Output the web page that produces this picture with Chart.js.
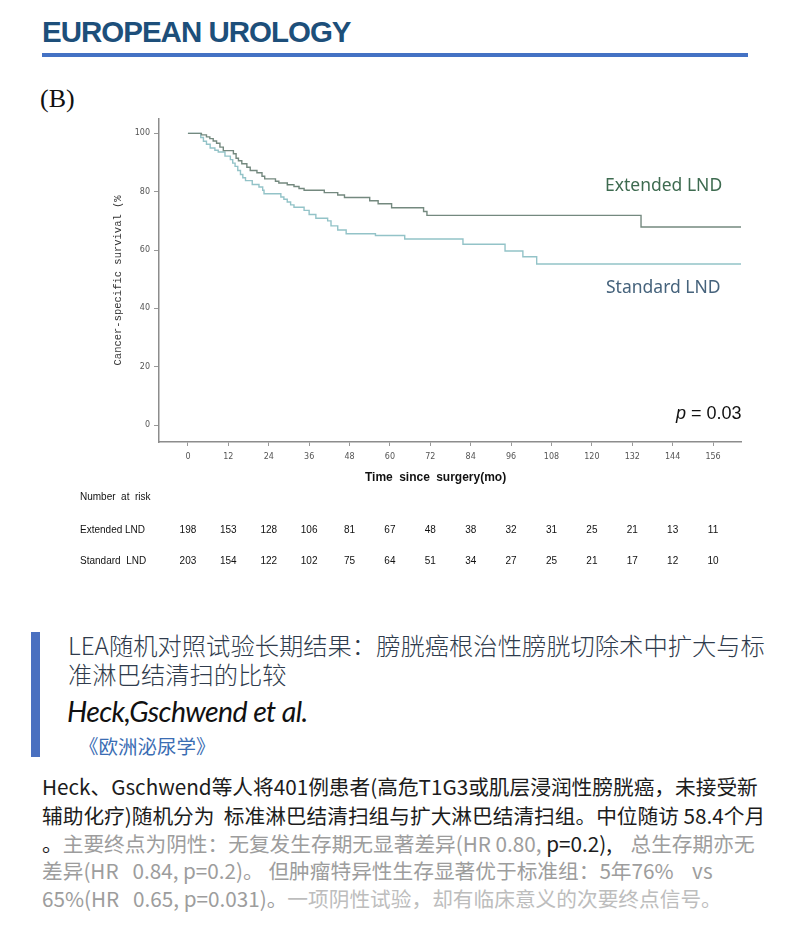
<!DOCTYPE html>
<html><head><meta charset="utf-8">
<script src="https://cdn.jsdelivr.net/npm/chart.js@4.4.0/dist/chart.umd.min.js"></script>
<style>
body{margin:0;background:#fff;width:790px;height:943px;position:relative;overflow:hidden;font-family:"Noto Sans CJK SC","Noto Sans",sans-serif;}
.abs{position:absolute;white-space:nowrap;}
.p{left:42px;font-size:20.7px;line-height:28px;color:#1c1c1c;}
.g{color:#9d9d9d}
.g2{color:#bdbdbd}
</style></head><body>
<div class="abs" style="left:42px;top:15px;font:bold 29.5px 'Liberation Sans',Arial;color:#1d4f7a;letter-spacing:-1px;">EUROPEAN UROLOGY</div>
<div class="abs" style="left:42px;top:53px;width:706px;height:4px;background:#4472c4"></div>
<div class="abs" style="left:40px;top:84px;font:26px 'Liberation Serif';color:#111">(B)</div>

<div style="position:absolute;left:60px;top:110px;width:700px;height:470px"><canvas id="c" width="700" height="470"></canvas></div>

<div class="abs" style="left:605px;top:172px;font:17.5px 'Noto Sans';color:#3e6b50">Extended LND</div>
<div class="abs" style="left:606px;top:274px;font:17.5px 'Noto Sans';color:#46637c">Standard LND</div>
<div class="abs" style="left:676px;top:403px;font:18px 'Liberation Sans';color:#111"><i>p</i> = 0.03</div>
<div class="abs" style="left:365px;top:470px;font:bold 12px 'Liberation Sans Narrow','Liberation Sans';color:#111;word-spacing:3px">Time since surgery(mo)</div>

<div class="abs" style="left:31px;top:632px;width:9px;height:125px;background:#4a70c0"></div>
<div class="abs" style="left:68px;top:630px;font-size:24.3px;font-weight:300;line-height:29px;color:#2f3b4c">LEA随机对照试验长期结果：膀胱癌根治性膀胱切除术中扩大与标</div>
<div class="abs" style="left:68px;top:659px;font-size:24.3px;font-weight:300;line-height:29px;color:#2f3b4c">准淋巴结清扫的比较</div>
<div class="abs" style="left:67px;top:694px;font:italic 28.5px Lato;color:#111;letter-spacing:-0.6px">Heck,Gschwend et al.</div>
<div class="abs" style="left:79px;top:733px;font-size:19.5px;line-height:25px;color:#3b6db3">《欧洲泌尿学》</div>

<div class="abs p" style="top:772px">Heck、Gschwend等人将401例患者(高危T1G3或肌层浸润性膀胱癌，未接受新</div>
<div class="abs p" style="top:801px">辅助化疗)随机分为&nbsp; 标准淋巴结清扫组与扩大淋巴结清扫组。中位随访 58.4个月</div>
<div class="abs p" style="top:829px">。<span class="g">主要终点为阴性：无复发生存期无显著差异(HR 0.80, </span>p=0.2),&nbsp;&nbsp;&nbsp; <span class="g">总生存期亦无</span></div>
<div class="abs p g" style="top:856px">差异(HR&nbsp;&nbsp; 0.84, p=0.2)。 但肿瘤特异性生存显著优于标准组：5年76%&nbsp;&nbsp;&nbsp; vs</div>
<div class="abs p g" style="top:884px">65%(HR&nbsp;&nbsp; 0.65, p=0.031)。<span class="g2">一项阴性试验，却有临床意义的次要终点信号。</span></div>

<script>
// Kaplan-Meier step events (months, survival %)
const extendedTimes = [0, 4, 5.5, 6.5, 7.5, 8.5, 9.5, 10.5, 13.5, 14.3, 15, 16, 17.5, 18.5, 20.5, 22, 22.8, 26, 27, 29.5, 31.5, 33, 34.5, 40.5, 44.5, 46.5, 54, 56.5, 60.5, 70, 71, 134.6, 164.3];
const extendedSurv  = [100, 99.5, 98.8, 98.2, 97.4, 96.6, 95.3, 94.1, 93.0, 91.5, 90.6, 89.6, 88.4, 87.3, 86.5, 85.3, 84.4, 83.6, 83.0, 82.4, 81.8, 81.1, 80.5, 79.7, 78.9, 78.0, 76.9, 75.9, 74.5, 73.2, 71.9, 67.9, 67.9];
const standardTimes = [0, 3.8, 4.6, 5.5, 6.6, 8.0, 9.0, 11.0, 12.6, 13.3, 14, 14.8, 15.6, 16.3, 17.1, 19.1, 21.1, 22.2, 22.6, 27.6, 28.5, 29.5, 30.5, 31.5, 34.5, 36, 38, 41.5, 42.5, 44.5, 47, 55.7, 64.4, 81.7, 94.2, 99.5, 103.6, 164.3];
const standardSurv  = [100, 98.6, 97.3, 96.3, 95.0, 94.2, 93.6, 92.2, 91.0, 89.8, 88.7, 87.3, 85.9, 84.8, 83.8, 82.5, 81.6, 80.5, 79.3, 78.2, 77.4, 76.5, 75.5, 74.7, 73.6, 72.2, 70.9, 70.0, 68.3, 66.9, 65.6, 65.0, 63.8, 62.0, 59.7, 57.7, 55.2, 55.2];
const xTicks = [0, 12, 24, 36, 48, 60, 72, 84, 96, 108, 120, 132, 144, 156];
const yTicks = [0, 20, 40, 60, 80, 100];
const riskExtended = [198, 153, 128, 106, 81, 67, 48, 38, 32, 31, 25, 21, 13, 11];
const riskStandard = [203, 154, 122, 102, 75, 64, 51, 34, 27, 25, 21, 17, 12, 10];
const riskLabels = ['Number  at  risk', 'Extended LND', 'Standard  LND'];

const toPts = (t, s) => t.map((v, i) => ({x: v, y: s[i]}));

const riskPlugin = {
  id: 'risk',
  afterDraw(chart) {
    const ctx = chart.ctx, xs = chart.scales.x;
    ctx.save();
    ctx.fillStyle = '#111';
    ctx.textBaseline = 'middle';
    ctx.font = '10px "Liberation Sans Narrow", "Liberation Sans", Arial';
    ctx.textAlign = 'left';
    ctx.fillText(riskLabels[0], 20, 387);
    ctx.fillText(riskLabels[1], 20, 420);
    ctx.fillText(riskLabels[2], 20, 451);
    ctx.textAlign = 'center';
    xTicks.forEach((t, i) => {
      const px = xs.getPixelForValue(t);
      ctx.fillText(String(riskExtended[i]), px, 420);
      ctx.fillText(String(riskStandard[i]), px, 451);
    });
    ctx.restore();
  }
};

new Chart(document.getElementById('c'), {
  type: 'scatter',
  data: {
    datasets: [
      {label: 'Extended LND', data: toPts(extendedTimes, extendedSurv), showLine: true, stepped: true, borderColor: '#74897f', borderWidth: 1.4, pointRadius: 0, fill: false},
      {label: 'Standard LND', data: toPts(standardTimes, standardSurv), showLine: true, stepped: true, borderColor: '#93c3c8', borderWidth: 1.4, pointRadius: 0, fill: false}
    ]
  },
  options: {
    responsive: false,
    animation: false,
    layout: {padding: {left: 0, right: 19, top: 7, bottom: 90}},
    plugins: {legend: {display: false}, tooltip: {enabled: false}},
    scales: {
      x: {
        type: 'linear', min: -8.6, max: 164.3,
        afterBuildTicks: s => { s.ticks = xTicks.map(v => ({value: v})); },
        afterFit: s => { s.height = 48; },
        grid: {drawOnChartArea: false, drawTicks: true, tickLength: 4, color: '#999'},
        border: {color: '#8c8c8c', width: 1.5},
        ticks: {font: {family: 'DejaVu Sans', size: 8}, color: '#555', padding: 6, maxRotation: 0, autoSkip: false}
      },
      y: {
        type: 'linear', min: -5.8, max: 105,
        afterBuildTicks: s => { s.ticks = yTicks.map(v => ({value: v})); },
        afterFit: s => { s.width = 99; },
        grid: {drawOnChartArea: false, drawTicks: true, tickLength: 5, color: '#999'},
        border: {color: '#8c8c8c', width: 1.5},
        ticks: {font: {family: 'DejaVu Sans', size: 8}, color: '#555', padding: 4},
        title: {display: true, text: 'Cancer-specific survival (%', font: {family: 'Liberation Mono', size: 10.5}, color: '#333', padding: {top: 52, bottom: 0}}
      }
    }
  },
  plugins: [riskPlugin]
});
</script>
</body></html>
